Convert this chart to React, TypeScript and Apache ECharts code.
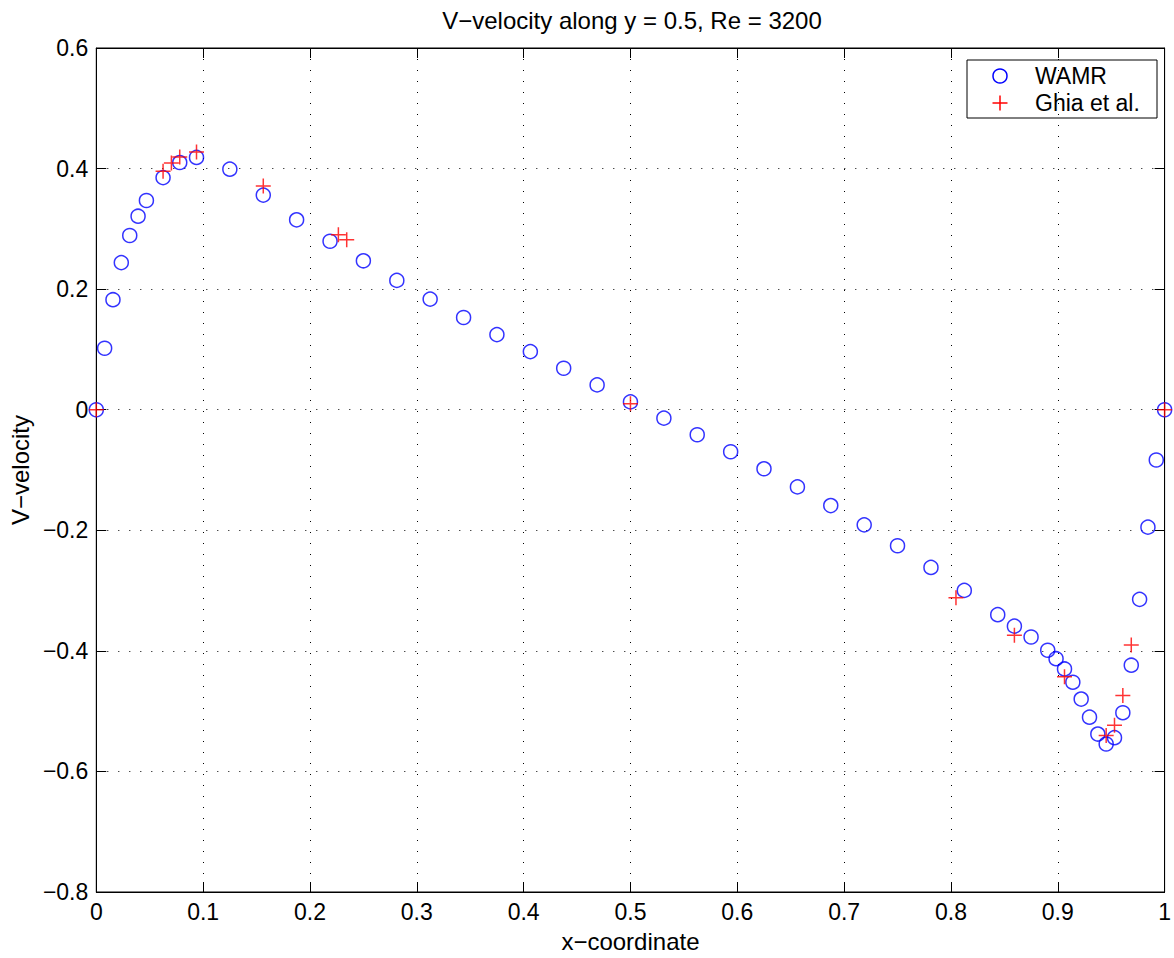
import React, { useEffect, useRef } from "react";
import * as echarts from "echarts";

const wamrX = [0, 0.0078, 0.0156, 0.0234, 0.0313, 0.0391, 0.0469, 0.0625, 0.0781, 0.0938, 0.125, 0.1563, 0.1875, 0.2188, 0.25, 0.2813, 0.3125, 0.3438, 0.375, 0.4063, 0.4375, 0.4688, 0.5, 0.5313, 0.5625, 0.5938, 0.625, 0.6563, 0.6875, 0.7188, 0.75, 0.7813, 0.8125, 0.8438, 0.8594, 0.875, 0.8906, 0.8984, 0.9063, 0.9141, 0.9219, 0.9297, 0.9375, 0.9453, 0.9531, 0.9609, 0.9688, 0.9766, 0.9844, 0.9922, 1.0];
const wamrV = [0, 0.102, 0.1825, 0.244, 0.289, 0.321, 0.347, 0.385, 0.41, 0.4185, 0.399, 0.356, 0.315, 0.2795, 0.247, 0.2145, 0.1835, 0.153, 0.1246, 0.0964, 0.0688, 0.0412, 0.013, -0.014, -0.0415, -0.0697, -0.098, -0.128, -0.159, -0.191, -0.2257, -0.2616, -0.2997, -0.34, -0.359, -0.377, -0.399, -0.413, -0.43, -0.452, -0.48, -0.51, -0.538, -0.5545, -0.544, -0.5026, -0.4238, -0.3146, -0.1948, -0.0834, 0];

const ghiaX = [0, 0.0625, 0.0703, 0.0781, 0.0938, 0.1563, 0.2266, 0.2344, 0.5, 0.8047, 0.8594, 0.9063, 0.9453, 0.9531, 0.9609, 0.9688, 1.0];
const ghiaV = [0, 0.3956, 0.40917, 0.41906, 0.42768, 0.37119, 0.2903, 0.28188, 0.00999, -0.31184, -0.37401, -0.44307, -0.54053, -0.52357, -0.47425, -0.39017, 0];

const titleText = "V\u2212velocity along y = 0.5, Re = 3200";
const xName = "x\u2212coordinate";
const yName = "V\u2212velocity";
const seriesNames = ["WAMR", "Ghia et al."];

const FONT = '"Liberation Sans", Arial, Helvetica, sans-serif';
const PLUS = "path://M5,0 L5,10 M0,5 L10,5";
const BLUE = "#0000ff";
const RED = "#ff0000";

const fmt = (v: number) => {
  const r = Math.round(v * 10) / 10;
  if (r === 0) return "0";
  return (r < 0 ? "\u2212" : "") + String(Math.abs(r));
};

export default function App() {
  const ref = useRef<HTMLDivElement>(null);
  useEffect(() => {
    if (!ref.current) return;
    const chart = echarts.init(ref.current, undefined, { renderer: "svg" });
    const gridLine = { show: true, lineStyle: { color: "#000", type: [1, 10], width: 1 } };
    const tick = { show: true, inside: true, length: 10, lineStyle: { color: "#000" } };
    const line = { show: true, onZero: false, lineStyle: { color: "#000", width: 1 } };
    const xBase = { type: "value", min: 0, max: 1, interval: 0.1 };
    const yBase = { type: "value", min: -0.8, max: 0.6, interval: 0.2 };
    const lx = 967, ly = 60, lw = 190, lh = 58;
    chart.setOption({
      animation: false,
      backgroundColor: "#fff",
      textStyle: { fontFamily: FONT },
      grid: { left: 95, right: 6, top: 48, bottom: 64, show: true, borderColor: "#000", borderWidth: 1, backgroundColor: "#fff" },
      graphic: [
        {
          type: "text",
          x: 632,
          y: 20,
          style: { text: titleText, font: `24px ${FONT}`, fill: "#000", textAlign: "center", textVerticalAlign: "middle" },
        },
        {
          type: "group",
          z: 100,
          children: [
            { type: "rect", shape: { x: lx, y: ly, width: lw, height: lh }, style: { fill: "#fff", stroke: "#000", lineWidth: 1 } },
            { type: "circle", shape: { cx: lx + 33, cy: ly + 16, r: 7 }, style: { fill: "none", stroke: BLUE, lineWidth: 1.5 } },
            { type: "line", shape: { x1: lx + 33, y1: ly + 43 - 7.5, x2: lx + 33, y2: ly + 43 + 7.5 }, style: { stroke: RED, lineWidth: 1.5 } },
            { type: "line", shape: { x1: lx + 33 - 7.5, y1: ly + 43, x2: lx + 33 + 7.5, y2: ly + 43 }, style: { stroke: RED, lineWidth: 1.5 } },
            { type: "text", x: lx + 68, y: ly + 16, style: { text: seriesNames[0], font: `23px ${FONT}`, fill: "#000", textAlign: "left", textVerticalAlign: "middle" } },
            { type: "text", x: lx + 68, y: ly + 43, style: { text: seriesNames[1], font: `23px ${FONT}`, fill: "#000", textAlign: "left", textVerticalAlign: "middle" } },
          ],
        },
      ],
      xAxis: [
        {
          ...xBase,
          position: "bottom",
          name: xName,
          nameLocation: "middle",
          nameGap: 37,
          nameTextStyle: { fontSize: 24, color: "#000", fontFamily: FONT },
          axisLine: line,
          axisTick: tick,
          splitLine: gridLine,
          axisLabel: { fontSize: 23, color: "#000", margin: 8, formatter: fmt, fontFamily: FONT },
        },
        {
          ...xBase,
          position: "top",
          axisLine: line,
          axisTick: tick,
          splitLine: { show: false },
          axisLabel: { show: false },
        },
      ],
      yAxis: [
        {
          ...yBase,
          position: "left",
          name: yName,
          nameLocation: "middle",
          nameGap: 62,
          nameTextStyle: { fontSize: 24, color: "#000", fontFamily: FONT },
          axisLine: line,
          axisTick: tick,
          splitLine: gridLine,
          axisLabel: { fontSize: 23, color: "#000", margin: 8, formatter: fmt, fontFamily: FONT },
        },
        {
          ...yBase,
          position: "right",
          axisLine: line,
          axisTick: tick,
          splitLine: { show: false },
          axisLabel: { show: false },
        },
      ],
      series: [
        {
          name: seriesNames[0],
          type: "scatter",
          xAxisIndex: 0,
          yAxisIndex: 0,
          symbol: "circle",
          symbolSize: 14,
          silent: true,
          itemStyle: { color: "rgba(0,0,0,0)", borderColor: BLUE, borderWidth: 1.5 },
          data: wamrX.map((x, i) => [x, wamrV[i]]),
        },
        {
          name: seriesNames[1],
          type: "scatter",
          xAxisIndex: 0,
          yAxisIndex: 0,
          symbol: PLUS,
          symbolSize: 15,
          silent: true,
          itemStyle: { color: "rgba(0,0,0,0)", borderColor: RED, borderWidth: 1.5 },
          data: ghiaX.map((x, i) => [x, ghiaV[i]]),
        },
      ],
    });
    return () => chart.dispose();
  }, []);
  return <div ref={ref} style={{ position: "fixed", left: 0, top: 0, width: 1174, height: 958 }} />;
}
